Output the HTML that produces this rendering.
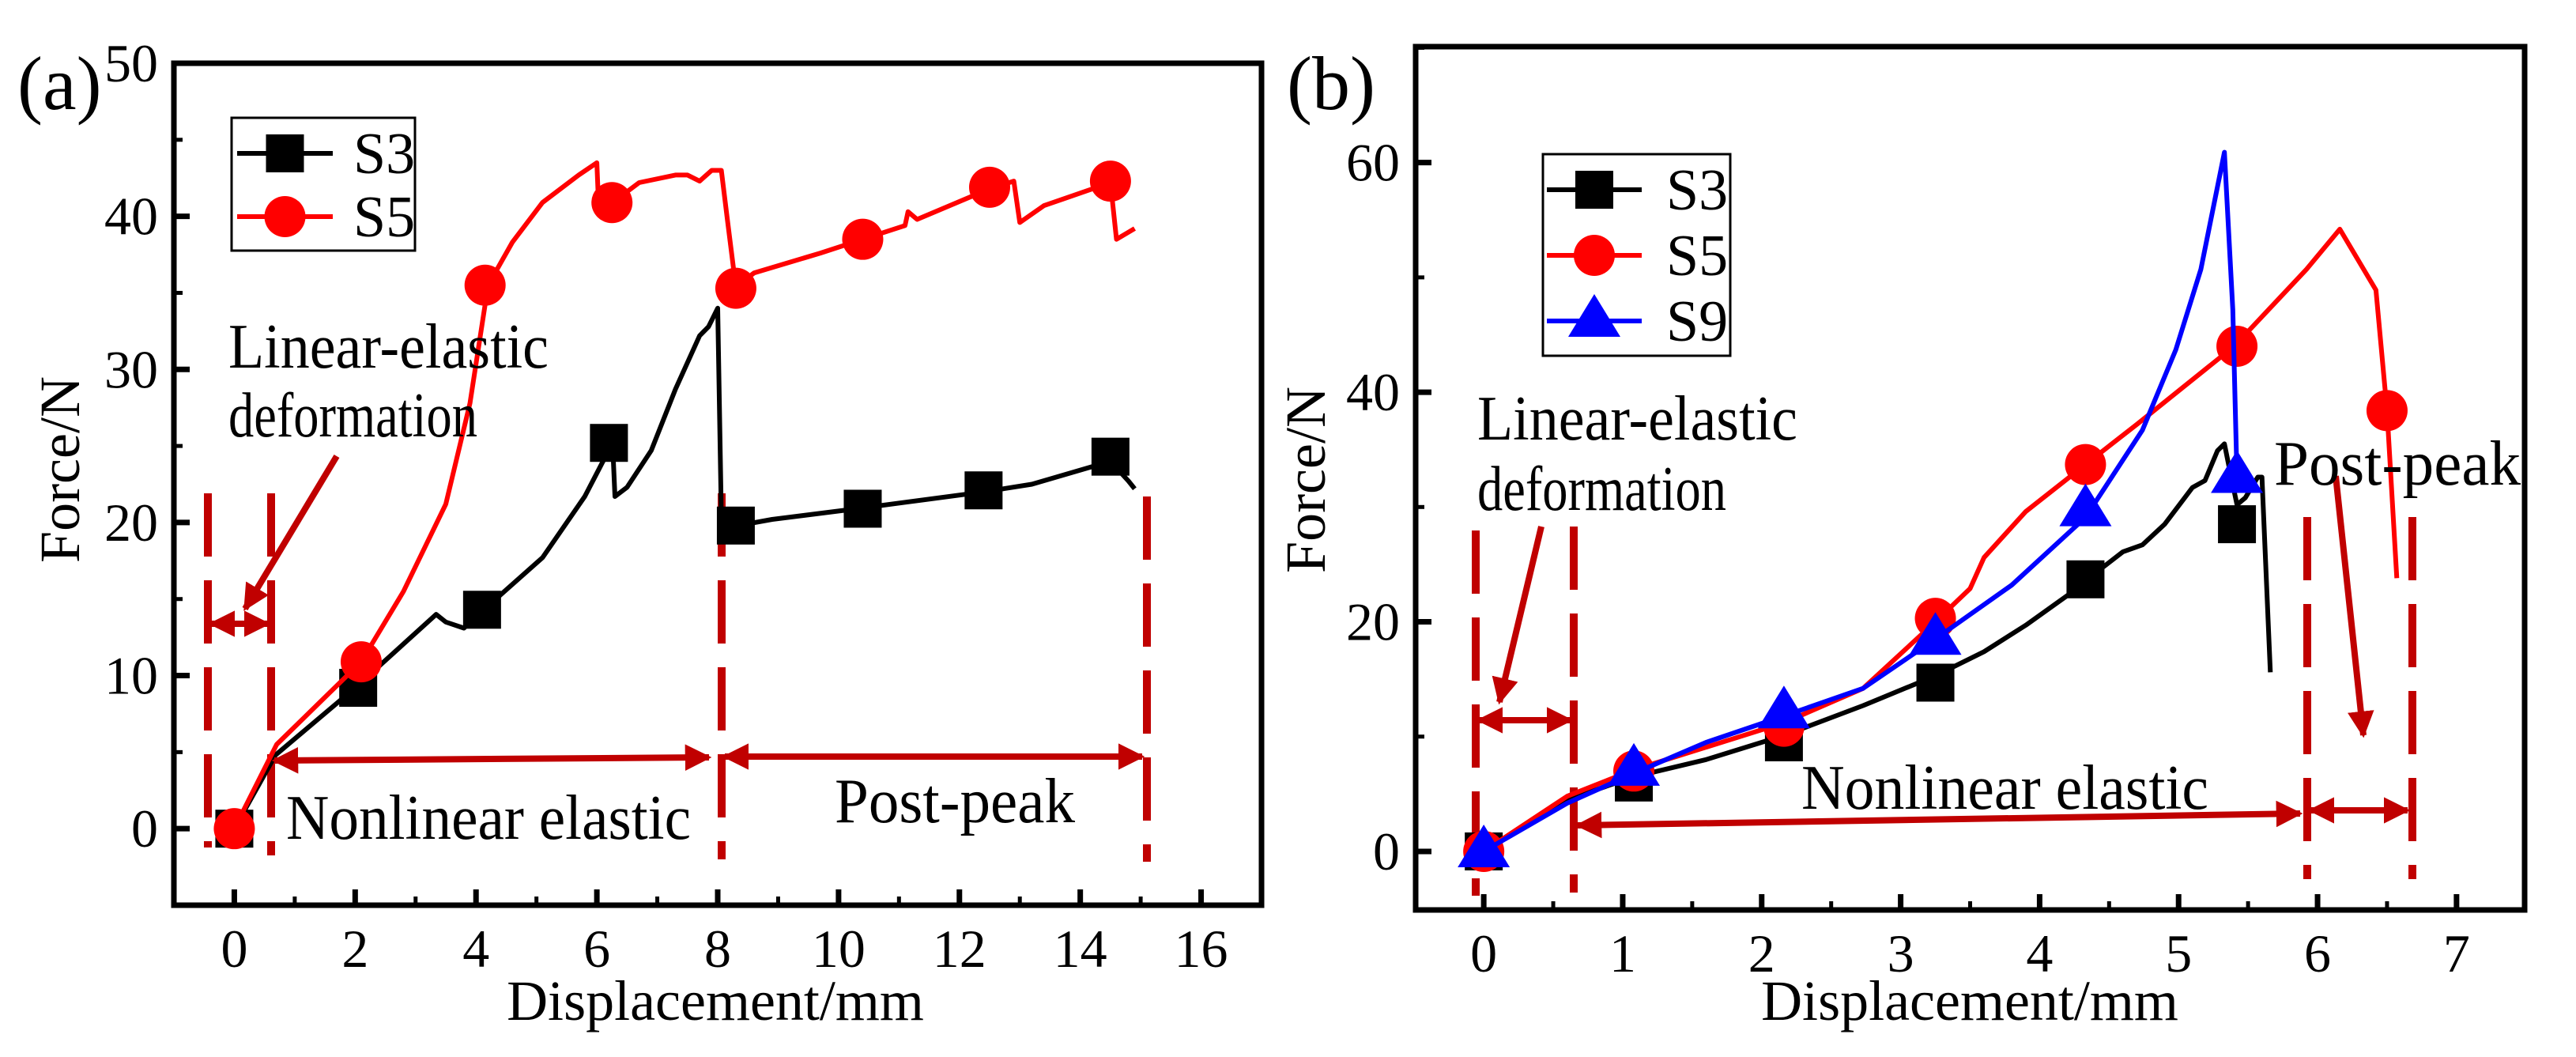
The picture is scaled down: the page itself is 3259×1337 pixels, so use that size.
<!DOCTYPE html>
<html><head><meta charset="utf-8"><style>
html,body{margin:0;padding:0;background:#fff;}
svg text{font-family:"Liberation Serif","Times New Roman",serif;}
</style></head><body>
<svg id="fig" width="3259" height="1332" viewBox="0 0 3259 1332" xmlns="http://www.w3.org/2000/svg" font-family="Liberation Serif, serif">
<defs>
<marker id="ah" viewBox="0 0 10 10" refX="9" refY="5" markerWidth="4.2" markerHeight="4.2" orient="auto-start-reverse" markerUnits="strokeWidth"><path d="M0,0 L10,5 L0,10 z" fill="#c00000"/></marker>
</defs>
</svg>
<script>
// ---- Panel (a) data ----
const aS3x=[0,0.68,2,3.34,3.5,3.8,4.1,5.1,5.8,6.26,6.3,6.5,6.9,7.3,7.7,7.85,8.0,8.06,8.2,8.9,10.3,12.4,13.2,14.5,14.8,14.9];
const aS3y=[0,4.8,9.2,14,13.5,13.1,14.2,17.7,21.7,25.2,21.7,22.3,24.7,28.7,32.2,32.8,34,20.4,19.7,20.2,20.9,22.0,22.5,24.0,22.7,22.2];
const aS3mx=[0,2.05,4.1,6.2,8.3,10.4,12.4,14.5];
const aS3my=[0,9.2,14.3,25.2,19.8,20.9,22.1,24.3];
const aS5x=[0,0.7,2.1,2.8,3.5,3.9,4.2,4.6,5.1,5.7,6.0,6.02,6.26,6.7,7.3,7.5,7.7,7.9,8.06,8.16,8.3,8.6,9.7,10.4,11.1,11.15,11.3,12.5,12.9,13.0,13.4,14.5,14.6,14.9];
const aS5y=[0,5.5,10.9,15.5,21.2,27.8,35.5,38.3,40.9,42.7,43.5,41.6,40.9,42.2,42.7,42.7,42.3,43,43,39.8,35.4,36.3,37.6,38.5,39.4,40.3,39.8,41.8,42.3,39.6,40.7,42.2,38.5,39.2];
const aS5mx=[0,2.1,4.15,6.25,8.3,10.4,12.5,14.5];
const aS5my=[0,10.9,35.5,40.9,35.3,38.5,41.9,42.3];
const aXticks=[0,2,4,6,8,10,12,14,16];
const aYticks=[0,10,20,30,40,50];
// ---- Panel (b) data ----
const bS3x=[0,0.6,1.08,1.6,2.16,2.73,3.25,3.6,3.9,4.27,4.45,4.6,4.74,4.9,5.1,5.19,5.28,5.33,5.36,5.42,5.48,5.57,5.6,5.66];
const bS3y=[0,4.5,6.5,8.0,10.1,12.7,15.3,17.4,19.7,22.9,24.7,26.1,26.7,28.5,31.7,32.3,34.9,35.5,33.7,30.2,30.8,32.6,32.6,15.6];
const bS3mx=[0,1.08,2.16,3.25,4.33,5.42];
const bS3my=[0,6.0,9.5,14.7,23.7,28.5];
const bS5x=[0,0.6,1.08,2.16,2.73,3.25,3.5,3.6,3.9,4.33,4.7,5.4,5.92,6.16,6.42,6.5,6.57];
const bS5y=[0,4.8,7.1,11.2,14.2,20,22.9,25.6,29.6,33.7,37.2,44,50.7,54.2,48.9,38.4,23.8];
const bS5mx=[0,1.08,2.16,3.25,4.33,5.42,6.5];
const bS5my=[0,7.0,10.9,20.3,33.7,44,38.4];
const bS9x=[0,0.6,1.08,1.6,2.16,2.73,3.25,3.8,4.33,4.74,4.98,5.16,5.33,5.39,5.42];
const bS9y=[0,4.2,6.8,9.5,11.8,14.2,18.5,23.2,29.1,36.7,43.7,50.7,60.9,47.2,32.6];
const bS9mx=[0,1.08,2.16,3.25,4.33,5.42];
const bS9my=[0,7.1,12.1,18.5,29.7,32.6];
const bXticks=[0,1,2,3,4,5,6,7];
const bYticks=[0,20,40,60];

const NS="http://www.w3.org/2000/svg";
const svg=document.getElementById('fig');
function el(tag,attrs,parent){const e=document.createElementNS(NS,tag);for(const k in attrs)e.setAttribute(k,attrs[k]);(parent||svg).appendChild(e);return e;}
function txt(s,attrs,parent){attrs['font-family']='Liberation Serif, serif';const e=el('text',attrs,parent);e.textContent=s;return e;}

function panel(P){
  const g=el('g',{});
  
  
  const sx=v=>P.L+(v-P.x0)/(P.x1-P.x0)*(P.R-P.L);
  const sy=v=>P.B-(v-P.y0)/(P.y1-P.y0)*(P.B-P.T);
  P.sx=sx;P.sy=sy;
  for(let v=Math.ceil(P.x0/P.xminor)*P.xminor; v<=P.x1+1e-9; v+=P.xminor){
    const major=Math.abs(v/P.xmajor-Math.round(v/P.xmajor))<1e-6;
    const t=el('line',{x1:sx(v),x2:sx(v),y1:P.B,y2:P.B-(major?20:11),stroke:'#000','stroke-width':major?7:5},g);
    
    
  }
  for(let v=Math.ceil(P.y0/P.yminor)*P.yminor; v<=P.y1+1e-9; v+=P.yminor){
    const major=Math.abs(v/P.ymajor-Math.round(v/P.ymajor))<1e-6;
    const t=el('line',{x1:P.L,x2:P.L+(major?20:11),y1:sy(v),y2:sy(v),stroke:'#000','stroke-width':major?7:5},g);
    
    
  }
  P.xt.forEach(v=>{const t=txt(String(v),{x:sx(v),y:P.B+78,'font-size':68,'text-anchor':'middle'},g);
    
    });
  P.yt.forEach(v=>{const t=txt(String(v),{x:P.L-20,y:sy(v)+23,'font-size':68,'text-anchor':'end'},g);
    
    });
  const xl=txt('Displacement/mm',{x:P.xlabX,y:1290,'font-size':72,'text-anchor':'middle'},g);
  
  
  const yl=txt('Force/N',{x:0,y:0,'font-size':72,'text-anchor':'middle',transform:`translate(${P.ylabX},${P.ylabY}) rotate(-90)`},g);
  
  
  const pl=txt(P.label,{x:P.labX,y:138,'font-size':96},g);
  
  
  return g;
}
function series(P,g,xs,ys,mx,my,color,shape,name){
  const pts=xs.map((x,i)=>P.sx(x).toFixed(1)+','+P.sy(ys[i]).toFixed(1)).join(' ');
  const pl=el('polyline',{points:pts,fill:'none',stroke:color,'stroke-width':6,'stroke-linejoin':'round'},g);
  
  
  mx.forEach((x,i)=>{const m=marker(g,P.sx(x),P.sy(my[i]),color,shape);
    
    });
}
function marker(g,cx,cy,color,shape){
  if(shape==='sq')return el('rect',{x:cx-24,y:cy-24,width:48,height:48,fill:color},g);
  if(shape==='ci')return el('circle',{cx:cx,cy:cy,r:26,fill:color},g);
  return el('polygon',{points:`${cx},${cy-34} ${cx-33},${cy+20} ${cx+33},${cy+20}`,fill:color},g);
}
function legend(g,x,y,w,h,items,name){
  const lg=el('g',{},g);
  
  
  el('rect',{x:x,y:y,width:w,height:h,fill:'#fff',stroke:'#000','stroke-width':3},lg);
  items.forEach(it=>{
    const e=el('g',{},lg);
    
    
    el('line',{x1:it.x1,x2:it.x2,y1:it.y,y2:it.y,stroke:it.c,'stroke-width':6},e);
    marker(e,(it.x1+it.x2)/2,it.y,it.c,it.s);
    txt(it.t,{x:it.tx,y:it.y+25,'font-size':74},e);
  });
}
function dash(g,x,y1,y2){const d=el('line',{x1:x,x2:x,y1:y1,y2:y2,stroke:'#c00000','stroke-width':10,'stroke-dasharray':'80 30'},g);
  
  }
function arrow(g,x1,y1,x2,y2,both,name){const a=el('line',{x1:x1,y1:y1,x2:x2,y2:y2,stroke:'#c00000','stroke-width':8,'marker-end':'url(#ah)'},g);
  if(both)a.setAttribute('marker-start','url(#ah)');
  
  }
function note(g,s,x,y,len,name){const t=txt(s,{x:x,y:y,'font-size':80,textLength:len,lengthAdjust:'spacingAndGlyphs'},g);
  
  }

// Panel a
const A={name:'panel-a',L:220,R:1596,T:80,B:1145,x0:-1,x1:17,y0:-5,y1:50,xmajor:2,xminor:1,ymajor:10,yminor:5,xt:aXticks,yt:aYticks,xlabX:905,ylabX:100,ylabY:594,label:'(a)',labX:22};
const ga=panel(A);
dash(ga,263,624,1072);dash(ga,343,624,1082);dash(ga,913,624,1087);dash(ga,1451,628,1090);
series(A,ga,aS3x,aS3y,aS3mx,aS3my,'#000','sq','s3');
series(A,ga,aS5x,aS5y,aS5mx,aS5my,'#ff0000','ci','s5');
arrow(ga,267,789,339,789,true,'linear-elastic-range-arrow');
arrow(ga,426,577,310,770,false,'linear-elastic-pointer');
arrow(ga,347,962,897,958,true,'nonlinear-range-arrow');
arrow(ga,917,957,1445,957,true,'post-peak-range-arrow');
note(ga,'Linear-elastic',289,465,405,'linear-elastic-label');
note(ga,'deformation',289,552,315,'deformation-label');
note(ga,'Nonlinear  elastic',362,1061,512,'nonlinear-elastic-label');
note(ga,'Post-peak',1056,1040,304,'post-peak-label');
legend(ga,293,149,232,168,[
 {x1:300,x2:421,y:194,c:'#000',s:'sq',t:'S3',tx:447},
 {x1:300,x2:421,y:274,c:'#ff0000',s:'ci',t:'S5',tx:447}],'legend-a');
el('rect',{x:220,y:80,width:1376,height:1065,fill:'none',stroke:'#000','stroke-width':7},ga);

// Panel b
const B={name:'panel-b',L:1791,R:3194,T:59,B:1151,x0:-0.49,x1:7.49,y0:-5.1,y1:70.1,xmajor:1,xminor:0.5,ymajor:20,yminor:10,xt:bXticks,yt:bYticks,xlabX:2492,ylabX:1676,ylabY:607,label:'(b)',labX:1628};
const gb=panel(B);
dash(gb,1867,671,1133);dash(gb,1991,666,1129);dash(gb,2919,654,1112);dash(gb,3052,654,1112);
series(B,gb,bS3x,bS3y,bS3mx,bS3my,'#000','sq','s3');
series(B,gb,bS5x,bS5y,bS5mx,bS5my,'#ff0000','ci','s5');
series(B,gb,bS9x,bS9y,bS9mx,bS9my,'#0000ff','tr','s9');
arrow(gb,1871,911,1987,911,true,'linear-elastic-range-arrow');
arrow(gb,1950,666,1897,888,false,'linear-elastic-pointer');
arrow(gb,1996,1044,2910,1029,true,'nonlinear-range-arrow');
arrow(gb,2923,1025,3046,1025,true,'post-peak-range-arrow');
arrow(gb,2955,602,2990,930,false,'post-peak-pointer');
note(gb,'Linear-elastic',1869,556,405,'linear-elastic-label');
note(gb,'deformation',1869,645,315,'deformation-label');
note(gb,'Nonlinear  elastic',2279,1023,515,'nonlinear-elastic-label');
note(gb,'Post-peak',2877,613,312,'post-peak-label');
legend(gb,1952,195,237,255,[
 {x1:1957,x2:2077,y:240,c:'#000',s:'sq',t:'S3',tx:2108},
 {x1:1957,x2:2077,y:323,c:'#ff0000',s:'ci',t:'S5',tx:2108},
 {x1:1957,x2:2077,y:406,c:'#0000ff',s:'tr',t:'S9',tx:2108}],'legend-b');
el('rect',{x:1791,y:59,width:1403,height:1092,fill:'none',stroke:'#000','stroke-width':7},gb);
</script>
</body></html>
